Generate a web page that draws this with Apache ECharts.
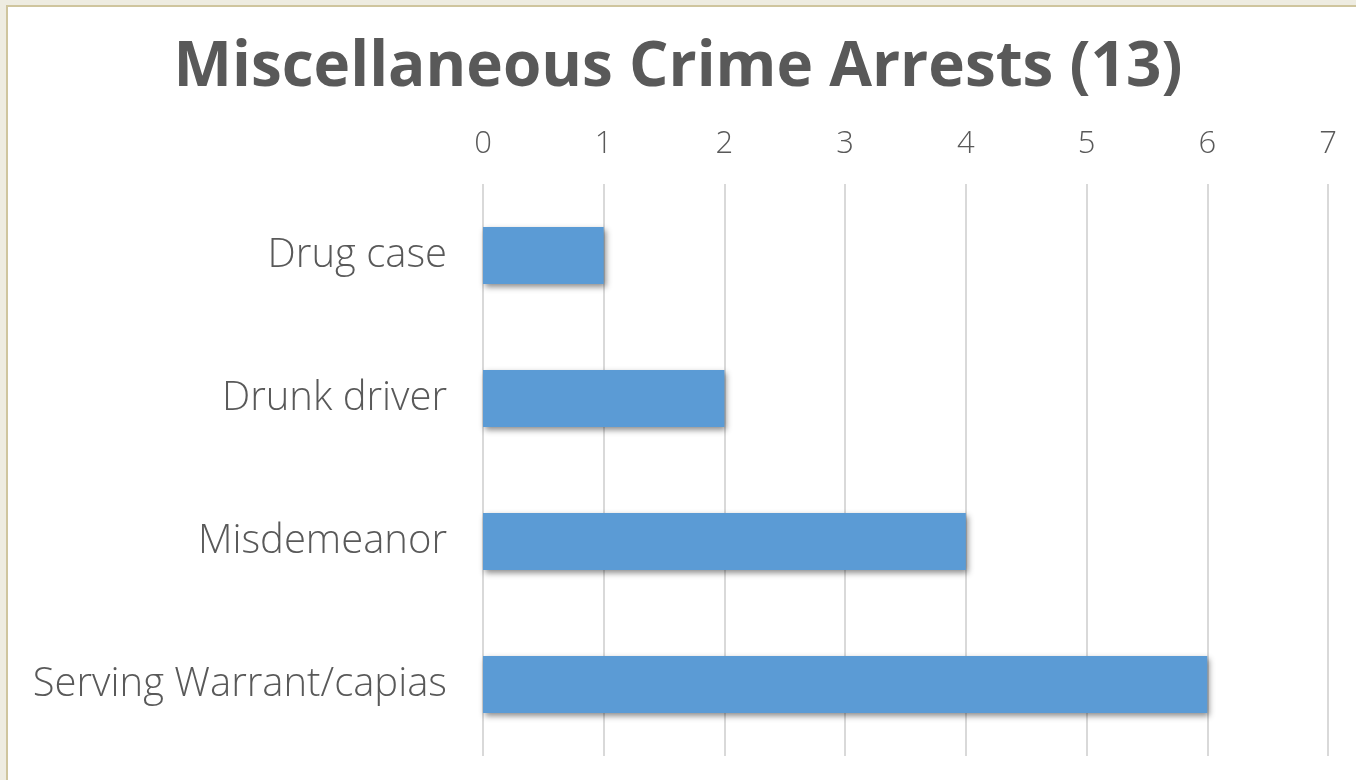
<!DOCTYPE html>
<html><head><meta charset="utf-8">
<script src="https://cdn.jsdelivr.net/npm/echarts@6/dist/echarts.min.js"></script>
<style>
html,body{margin:0;padding:0;width:1356px;height:780px;background:#EEECE1;overflow:hidden;}
#frame{position:absolute;left:6px;top:5px;right:0;bottom:0;background:#fff;border-left:2px solid #CFC59E;border-top:2px solid #CFC59E;}
#chart{position:absolute;left:0;top:0;width:1356px;height:780px;}
</style></head>
<body><div id="frame"></div><div id="chart"></div>
<script>
const titleText = 'Miscellaneous Crime Arrests (13)';
const categories = ['Drug case', 'Drunk driver', 'Misdemeanor', 'Serving Warrant/capias'];
const values = [1, 2, 4, 6];
const xTicks = [0, 1, 2, 3, 4, 5, 6, 7];

const FONT = 'Open Sans';
const chart = echarts.init(document.getElementById('chart'), null, {renderer: 'canvas'});
chart.setOption({
  backgroundColor: 'transparent',
  animation: false,
  title: {
    text: titleText,
    left: 'center',
    top: 32,
    textStyle: {fontFamily: FONT, fontWeight: 'bold', fontSize: 62, color: '#595959'}
  },
  grid: {left: 483, right: 28, top: 184, bottom: 24, containLabel: false},
  xAxis: {
    type: 'value',
    position: 'top',
    min: xTicks[0], max: xTicks[xTicks.length - 1], interval: 1,
    axisLine: {show: false}, axisTick: {show: false},
    axisLabel: {fontFamily: FONT, fontWeight: 300, fontSize: 31, color: '#595959', margin: 24},
    splitLine: {lineStyle: {color: '#D9D9D9', width: 2}}
  },
  yAxis: {
    type: 'category',
    inverse: true,
    data: categories,
    axisLine: {show: false}, axisTick: {show: false},
    axisLabel: {fontFamily: FONT, fontWeight: 300, fontSize: 40, color: '#595959', margin: 36}
  },
  series: [{
    type: 'bar',
    data: values,
    barWidth: 57,
    itemStyle: {color: '#5B9BD5', shadowColor: 'rgba(0,0,0,0.45)', shadowBlur: 6, shadowOffsetX: 2, shadowOffsetY: 3}
  }]
});
</script></body></html>
